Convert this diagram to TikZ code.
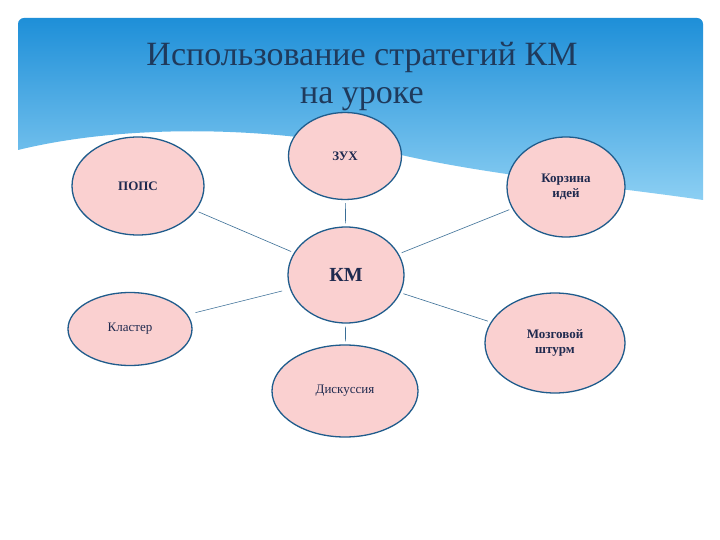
\documentclass[tikz,border=0pt]{standalone}
\usepackage{fontspec}
\setmainfont{Liberation Serif}
\usetikzlibrary{shapes.geometric}
\definecolor{hdrtop}{HTML}{1E8FD8}
\definecolor{hdrbot}{HTML}{8CCFF3}
\definecolor{pinkfill}{HTML}{FAD0D0}
\definecolor{edgeblue}{HTML}{1F5C8C}
\definecolor{txtnavy}{HTML}{1F2A4F}
\definecolor{titlec}{HTML}{1F3A5C}
\definecolor{linkc}{HTML}{3A6E96}
\tikzset{
  bub/.style={ellipse, draw=edgeblue, line width=1.3pt, fill=pinkfill, text=txtnavy, font=\bfseries\fontsize{13}{15}\selectfont, align=center, inner sep=0pt},
  link/.style={draw=linkc, line width=0.6pt, shorten <=3pt, shorten >=3pt}
}
\begin{document}
\begin{tikzpicture}[x=1pt,y=-1pt]
\useasboundingbox (0,0) rectangle (720,540);
\fill[white] (0,0) rectangle (720,540);
\begin{scope}
\clip[rounded corners=6pt] (18,18) rectangle (703,300);
\shade[top color=hdrtop, bottom color=hdrbot]
  (18,18) -- (703,18) -- (703,200) .. controls (600,185) and (480,175) .. (380,150)
  .. controls (260,125) and (120,125) .. (18,150) -- cycle;
\end{scope}
\node[text=titlec, font=\fontsize{34}{38}\selectfont, align=center] (title) at (362,77) {Использование стратегий КМ\\на уроке};
\node[bub, minimum width=116pt, minimum height=96pt] (km) at (346,275) {\fontsize{20}{22}\selectfont КМ};
\node[bub, minimum width=132pt, minimum height=98pt] (pops) at (138,186) {ПОПС};
\node[bub, minimum width=113pt, minimum height=87pt] (zuh) at (345,156) {ЗУХ};
\node[bub, minimum width=118pt, minimum height=100pt] (korz) at (566,187) {Корзина\\идей};
\node[bub, minimum width=124pt, minimum height=73pt, font=\fontsize{13}{15}\selectfont] (klas) at (130,329) {Кластер};
\node[bub, minimum width=140pt, minimum height=100pt] (mozg) at (555,343) {Мозговой\\штурм};
\node[bub, minimum width=146pt, minimum height=92pt, font=\fontsize{13}{15}\selectfont] (disk) at (345,391) {Дискуссия};
\draw[link] (pops) -- (km);
\draw[link] (zuh) -- (km);
\draw[link] (korz) -- (km);
\draw[link, shorten <=8pt, shorten >=8pt] (klas) -- (km);
\draw[link] (mozg) -- (km);
\draw[link] (disk) -- (km);
\end{tikzpicture}
\end{document}
